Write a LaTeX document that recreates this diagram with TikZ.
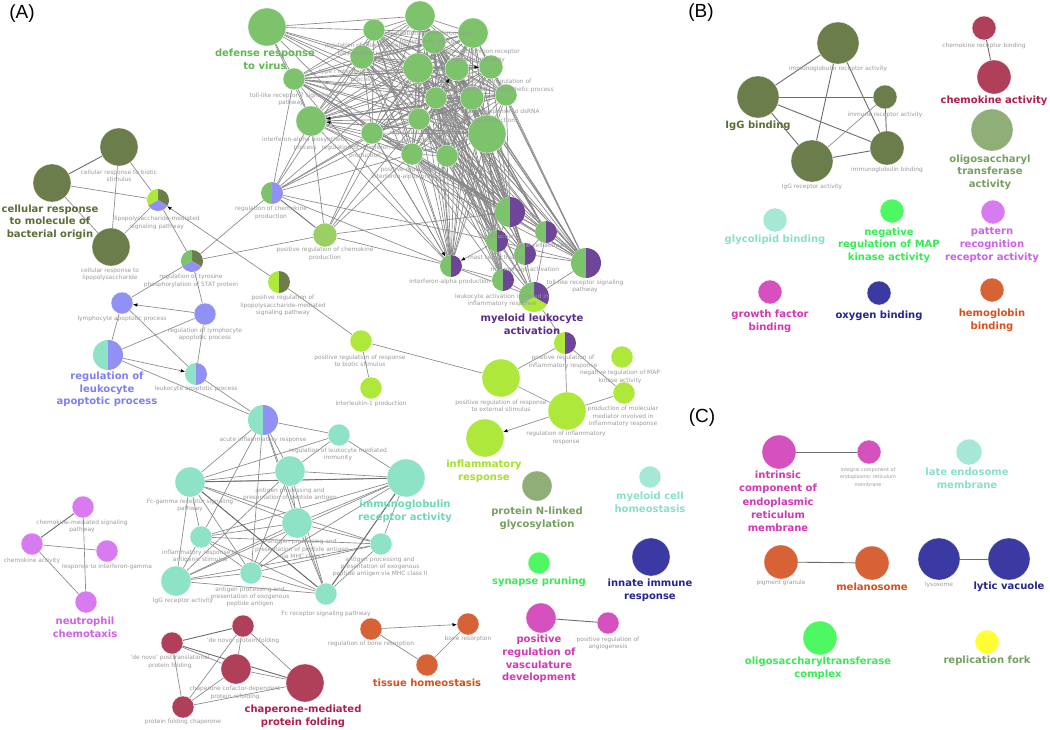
\documentclass[tikz,border=0pt]{standalone}
\usepackage{fontspec}
\setmainfont{DejaVu Sans}
\newfontfamily\panelfont{Liberation Sans}
\usetikzlibrary{arrows.meta}
\pgfdeclarelayer{bgl}
\pgfdeclarelayer{edg}
\pgfsetlayers{bgl,edg,main}
\definecolor{cG}{HTML}{7CC36C}\definecolor{tG}{HTML}{5DB94E}
\definecolor{cO}{HTML}{6B7D4A}\definecolor{tO}{HTML}{5B6E35}
\definecolor{cL}{HTML}{ADE83A}\definecolor{tL}{HTML}{A4E02C}
\definecolor{cV}{HTML}{9191F5}\definecolor{tV}{HTML}{7F7FF2}
\definecolor{cT}{HTML}{8EE3C7}\definecolor{tT}{HTML}{6DDAB6}
\definecolor{cP}{HTML}{6E4598}\definecolor{tP}{HTML}{5A2D8C}
\definecolor{cPi}{HTML}{D87AF0}\definecolor{tPi}{HTML}{D05FE9}
\definecolor{cC}{HTML}{B0405A}\definecolor{tC}{HTML}{B01E4A}
\definecolor{cOr}{HTML}{D66236}\definecolor{tOr}{HTML}{D6511C}
\definecolor{cM}{HTML}{D552BE}\definecolor{tM}{HTML}{D238B6}
\definecolor{cBG}{HTML}{4DF862}\definecolor{tBG}{HTML}{33EE52}
\definecolor{cDB}{HTML}{3A3AA2}\definecolor{tDB}{HTML}{25258F}
\definecolor{cGG}{HTML}{8FAE78}\definecolor{tGG}{HTML}{779F60}
\definecolor{cLT}{HTML}{A6E8D6}\definecolor{tLT}{HTML}{89E0CA}
\definecolor{cLG}{HTML}{9BCF66}
\definecolor{cY}{HTML}{FFFF33}
\definecolor{labgray}{HTML}{9B9B9B}
\definecolor{edgegray}{HTML}{888888}
\tikzset{
  nc/.style={circle,inner sep=0pt,outer sep=0pt,draw=white,line width=0.3pt},
  gl/.style={text=labgray,font=\fontsize{5.9}{7.3}\selectfont,align=center,inner sep=0pt},
  gls/.style={text=labgray,font=\fontsize{4.9}{7.6}\selectfont,align=center,inner sep=0pt},
  bl/.style={font=\bfseries\fontsize{10}{12.6}\selectfont,align=center,inner sep=0pt},
  ge/.style={draw=edgegray,line width=0.65pt},
  gd/.style={draw=gray!85!black,line width=0.9pt},
  ar/.style={ge,-{Latex[length=4.5pt,width=3.5pt,black]}},
  pl/.style={font=\panelfont\fontsize{19}{19}\selectfont,inner sep=0pt}
}
\newcommand\cn[5]{\node[nc,fill=#5,minimum size={2*#4pt}] (#1) at (#2,#3) {};}
\newcommand\hn[6]{\node[nc,minimum size={2*#4pt}] (#1) at (#2,#3) {};
  \fill[#5] (#1.center) -- ++(90:#4pt) arc[start angle=90,end angle=270,radius=#4pt] -- cycle;
  \fill[#6] (#1.center) -- ++(90:#4pt) arc[start angle=90,end angle=-90,radius=#4pt] -- cycle;}
\newcommand\tn[7]{\node[nc,minimum size={2*#4pt}] (#1) at (#2,#3) {};
  \fill[#6] (#1.center) -- ++(90:#4pt) arc[start angle=90,end angle=-30,radius=#4pt] -- cycle;
  \fill[#7] (#1.center) -- ++(-30:#4pt) arc[start angle=-30,end angle=-150,radius=#4pt] -- cycle;
  \fill[#5] (#1.center) -- ++(-150:#4pt) arc[start angle=-150,end angle=-270,radius=#4pt] -- cycle;}
\newcommand\lb[4]{\node[gl] (#1) at (#2,#3) {#4};}
\newcommand\bb[5]{\node[bl,text=#4] (#1) at (#2,#3) {#5};}
\begin{document}
\begin{tikzpicture}[x=1pt,y=-1pt]
\useasboundingbox (0,0) rectangle (1050,729);
\begin{pgfonlayer}{bgl}
\fill[white] (0,0) rectangle (1050,729);
\end{pgfonlayer}
% ---------- green cluster
\cn{g1}{267}{27}{19}{cG}
\cn{g2}{374}{30}{11}{cG}
\cn{g3}{420}{16}{15}{cG}
\cn{g4}{473}{33}{15}{cG}
\cn{g5}{434}{42}{12}{cG}
\cn{g6}{362}{57}{12}{cG}
\cn{g7}{418}{68}{15}{cG}
\cn{g8}{457}{69}{12}{cG}
\cn{g9}{491}{67}{12}{cG}
\cn{g10}{294}{79}{11}{cG}
\cn{g11}{506}{95}{11}{cG}
\cn{g12}{436}{98}{11}{cG}
\cn{g13}{472}{98}{12}{cG}
\cn{g14}{311}{121}{15}{cG}
\cn{g15}{419}{119}{11}{cG}
\cn{g16}{487}{134}{19}{cG}
\cn{g17}{372}{133}{11}{cG}
\cn{g18}{412}{154}{11}{cG}
\cn{g19}{447}{156}{11}{cG}
% split nodes
\hn{p1}{510}{212}{15}{cG}{cP}
\hn{p2}{546}{232}{11}{cG}{cP}
\hn{p3}{497}{241}{11}{cG}{cP}
\hn{p4}{525}{254}{11}{cG}{cP}
\hn{p5}{586}{263}{15}{cG}{cP}
\hn{p6}{451}{266}{11}{cG}{cP}
\hn{p7}{503}{280}{11}{cG}{cP}
\tn{mla}{534}{297}{15}{cG}{cP}{cL}
\hn{pri}{565}{343}{11}{cL}{cP}
\hn{rcp}{272}{193}{11}{cG}{cV}
\cn{prcp}{325}{235}{12}{cLG}
\hn{lps3}{279}{282}{11}{cL}{cO}
% olive
\cn{o1}{119}{147}{19}{cO}
\cn{o2}{52}{183}{19}{cO}
\cn{o3}{111}{247}{19}{cO}
\tn{lps}{158}{200}{11}{cL}{cO}{cV}
\tn{tyr}{192}{261}{11}{cG}{cO}{cV}
% lavender
\cn{lym}{122}{303}{11}{cV}
\cn{rla}{205}{314}{11}{cV}
\hn{rlap}{108}{355}{15}{cT}{cV}
\hn{lap}{196}{374}{11}{cT}{cV}
\hn{acute}{263}{420}{15}{cT}{cV}
% turquoise
\cn{rlmi}{339}{435}{11}{cT}
\cn{app}{290}{471}{15}{cT}
\cn{ig}{406}{478}{19}{cT}
\cn{fcg}{190}{482}{15}{cT}
\cn{mhc1}{297}{523}{15}{cT}
\cn{infl}{201}{537}{11}{cT}
\cn{mhc2}{381}{544}{11}{cT}
\cn{iggr}{176}{581}{15}{cT}
\cn{exo}{251}{573}{11}{cT}
\cn{fcr}{326}{594}{11}{cT}
% lime
\cn{prrbs}{361}{341}{11}{cL}
\cn{il1}{371}{388}{11}{cL}
\cn{prres}{501}{378}{19}{cL}
\cn{ri}{567}{411}{19}{cL}
\cn{ir}{485}{438}{19}{cL}
\cn{mapk}{622}{357}{11}{cL}
\cn{pmm}{624}{393}{11}{cL}
% singles
\cn{nlg}{537}{486}{15}{cGG}
\cn{mch}{650}{477}{11}{cLT}
\cn{sp}{539}{563}{11}{cBG}
\cn{iir}{651}{557}{19}{cDB}
\cn{prvd}{541}{618}{15}{cM}
\cn{prang}{608}{623}{11}{cM}
% violet
\cn{cms}{83}{507}{11}{cPi}
\cn{ca}{32}{544}{11}{cPi}
\cn{rig}{107}{551}{11}{cPi}
\cn{ntc}{86}{602}{11}{cPi}
% crimson
\cn{dnpf}{243}{626}{11}{cC}
\cn{dnpt}{172}{643}{11}{cC}
\cn{ccd}{236}{669}{15}{cC}
\cn{cmpf}{305}{683}{19}{cC}
\cn{pfc}{183}{707}{11}{cC}
% orange
\cn{rbr}{371}{629}{11}{cOr}
\cn{br}{468}{624}{11}{cOr}
\cn{th}{427}{665}{11}{cOr}
% ---------- panel B
\cn{bira}{838}{43}{21}{cO}
\cn{bigg}{758}{97}{21}{cO}
\cn{bimr}{885}{97}{12}{cO}
\cn{bib}{887}{148}{17}{cO}
\cn{bigr}{812}{161}{21}{cO}
\cn{bcrb}{984}{28}{12}{cC}
\cn{bca}{994}{77}{17}{cC}
\cn{bot}{992}{130}{21}{cGG}
\cn{bgb}{775}{220}{12}{cLT}
\cn{bmap}{892}{211}{12}{cBG}
\cn{bprr}{993}{212}{12}{cPi}
\cn{bgf}{770}{292}{12}{cM}
\cn{box}{879}{293}{12}{cDB}
\cn{bhb}{992}{290}{12}{cOr}
% ---------- panel C
\cn{cice}{779}{452}{17}{cM}
\cn{cicm}{869}{452}{12}{cM}
\cn{cle}{969}{452}{13}{cLT}
\cn{cpg}{781}{562}{17}{cOr}
\cn{cmel}{872}{563}{17}{cOr}
\cn{clys}{939}{559}{21}{cDB}
\cn{clv}{1009}{559}{21}{cDB}
\cn{cot}{820}{638}{17}{cBG}
\cn{crf}{987}{642}{12}{cY}
% ================= edges
\begin{pgfonlayer}{edg}
\foreach \i in {2,...,19}{\foreach \j in {2,...,19}{\ifnum\i<\j\relax\draw[ge] (g\i) -- (g\j);\fi}}
\foreach \b in {2,3,6,7,10,12,14,15,16,17} \draw[ge] (g1) -- (g\b);
\foreach \i in {2,...,19}{\foreach \b in {p1,p5,p6} \draw[ge] (g\i) -- (\b);}
\foreach \i in {3,5,7,8,12,13,15,16,18,19}{\foreach \b in {p2,p3,p4,p7} \draw[ge] (g\i) -- (\b);}
\foreach \i in {7,12,15,16,18,19} \draw[ge] (g\i) -- (mla);
\foreach \b in {g10,g14,g17,g6,g7,g15,g18,g12,p6,p3} \draw[ge] (rcp) -- (\b);
\foreach \b in {g14,g17,g18,g15,g7,p6,p1} \draw[ge] (prcp) -- (\b);
\draw[gd] (rcp) -- (prcp);
\foreach \a/\b in {p1/p2,p1/p3,p1/p4,p2/p4,p2/p5,p3/p4,p4/p7,p7/mla,p4/mla,p2/mla,p5/mla,p5/p4,p6/p7,p6/mla,p3/p7,p5/p3}
  \draw[ge] (\a) -- (\b);
\draw[ar] (p3) -- (p6);
\draw[ar] (g17) -- (p6);
\draw[ar] (g16) -- (g14);
\draw[ar] (g13) -- (g14);
\draw[ar] (g15) -- (g8);
\draw[ar] (g7) -- (g9);
% olive
\draw[gd] (o1) -- (o2);
\foreach \a/\b in {o1/o3,o2/o3,o2/lps,o1/lps,o3/lps,lps/tyr,tyr/lym,tyr/rla,tyr/rcp,tyr/prcp,lps3/prrbs}
  \draw[ge] (\a) -- (\b);
\draw[ar] (lps3) -- (lps);
% lavender
\draw[ar] (rla) -- (lym);
\draw[ar] (rlap) -- (lap);
\foreach \a/\b in {lym/rlap,rlap/rla,lym/lap,rla/lap,lap/acute,rlap/acute}
  \draw[ge] (\a) -- (\b);
% turquoise
\foreach \b in {rlmi,app,fcg,mhc1,fcr,exo,infl} \draw[ge] (acute) -- (\b);
\foreach \a/\b in {rlmi/app,rlmi/fcg,rlmi/ig,app/ig,app/fcg,app/mhc1,app/exo,app/fcr,app/iggr,
  ig/fcg,ig/mhc1,ig/mhc2,ig/fcr,ig/exo,ig/iggr,ig/infl,fcg/mhc1,fcg/infl,fcg/iggr,fcg/exo,fcg/fcr,fcg/mhc2,
  mhc1/infl,mhc1/mhc2,mhc1/iggr,mhc1/exo,mhc1/fcr,infl/mhc2,infl/iggr,infl/exo,infl/fcr,mhc2/exo,mhc2/fcr,
  iggr/exo,iggr/fcr,exo/fcr,iggr/mhc2}
  \draw[ge] (\a) -- (\b);
\draw[gd] (fcg) -- (ig);
\draw[gd] (fcg) -- (fcr);
\draw[gd] (ig) -- (fcr);
% lime
\foreach \a/\b in {prrbs/il1,prrbs/prres,prres/pri,prres/ri,pri/ri,pri/pmm,ri/pmm,mla/pri}
  \draw[ge] (\a) -- (\b);
\draw[ar] (ri) -- (ir);
% violet
\foreach \a/\b in {cms/ntc,ca/rig,ca/ntc} \draw[ge] (\a) -- (\b);
\draw[gd] (cms) -- (ca);
% crimson
\foreach \a/\b in {dnpf/ccd,dnpf/cmpf,dnpt/ccd,dnpt/pfc,ccd/pfc,pfc/cmpf,pfc/dnpf,ccd/cmpf}
  \draw[ge] (\a) -- (\b);
\draw[gd] (dnpf) -- (dnpt);
\draw[gd] (dnpt) -- (cmpf);
% orange
\draw[ar] (rbr) -- (br);
\draw[ge] (rbr) -- (th);
\draw[ge] (th) -- (br);
\draw[gd] (prvd) -- (prang);
% panel B
\foreach \a/\b in {bigg/bira,bigg/bimr,bigg/bigr,bigg/bib,bira/bigr,bira/bib,bimr/bib,bigr/bib,bcrb/bca}
  \draw[gd] (\a) -- (\b);
\draw[ge] (bimr) -- (bigr);
% panel C
\draw[gd] (cice) -- (cicm);
\draw[gd] (cpg) -- (cmel);
\draw[gd] (clys) -- (clv);
\end{pgfonlayer}
% ================= gray labels
\lb{tg2}{368}{50}{regulation of interferon-alpha\\biosynthetic process}
\lb{tg3}{430}{38}{regulation of interferon-beta\\biosynthetic process}
\lb{tg4}{478}{56}{pattern recognition receptor\\signaling pathway}
\lb{tg9}{500}{86}{positive regulation of\\interferon-beta biosynthetic process}
\lb{tg6}{362}{76}{type I interferon biosynthetic\\process}
\lb{tg10}{291}{99.5}{toll-like receptor 7 signaling\\pathway}
\lb{tg14}{305}{144}{interferon-alpha biosynthetic\\process}
\lb{tg17}{365}{152}{regulation of interferon-alpha\\production}
\lb{tg11}{500}{112}{cellular response to dsRNA}
\lb{tg13}{476}{121}{interferon-beta production}
\lb{tg15}{425}{137}{regulation of interferon-\\beta production}
\lb{tg18}{412}{173.5}{positive regulation of\\interferon-alpha production}
\lb{tp1}{500}{237}{production}
\lb{tp2}{546}{246}{glial cell activation}
\lb{tp3}{497}{257}{mast cell activation}
\lb{tp4}{525}{270}{macrophage activation}
\lb{tp6}{450}{282}{interferon-alpha production}
\lb{tp5}{585}{286.5}{toll-like receptor signaling\\pathway}
\lb{tmla}{502}{300.5}{leukocyte activation involved in\\inflammatory response}
\lb{to1}{119}{175.5}{cellular response to biotic\\stimulus}
\lb{tlps}{157}{223}{lipopolysaccharide-mediated\\signaling pathway}
\lb{to3}{110}{274.5}{cellular response to\\lipopolysaccharide}
\lb{trcp}{271}{213}{regulation of chemokine\\production}
\lb{tprcp}{325}{254}{positive regulation of chemokine\\production}
\lb{ttyr}{191}{281}{regulation of tyrosine\\phosphorylation of STAT protein}
\lb{tlps3}{283}{305.5}{positive regulation of\\lipopolysaccharide-mediated\\signaling pathway}
\lb{tlym}{122}{319}{lymphocyte apoptotic process}
\lb{trla}{205}{334.5}{regulation of lymphocyte\\apoptotic process}
\lb{tlap}{196}{389}{leukocyte apoptotic process}
\lb{tacute}{263}{440}{acute inflammatory response}
\lb{trlmi}{338}{454.5}{regulation of leukocyte mediated\\immunity}
\lb{tapp}{290}{494.5}{antigen processing and\\presentation of peptide antigen}
\lb{tfcg}{190}{505.5}{Fc-gamma receptor signaling\\pathway}
\lb{tmhc1}{302}{549}{antigen processing and\\presentation of peptide antigen\\via MHC class I}
\lb{tinfl}{200}{556.5}{inflammatory response to\\antigenic stimulus}
\lb{tmhc2}{380}{567}{antigen processing and\\presentation of exogenous\\peptide antigen via MHC class II}
\lb{tiggr}{183}{601}{IgG receptor activity}
\lb{texo}{250}{597}{antigen processing and\\presentation of exogenous\\peptide antigen}
\lb{tfcr}{326}{614}{Fc receptor signaling pathway}
\lb{tprrbs}{360}{361}{positive regulation of response\\to biotic stimulus}
\lb{til1}{371}{404}{interleukin-1 production}
\lb{tprres}{501}{405.5}{positive regulation of response\\to external stimulus}
\lb{tri}{566}{438}{regulation of inflammatory\\response}
\lb{tpri}{563}{362}{positive regulation of\\inflammatory response}
\lb{tmapk}{620}{377}{negative regulation of MAP\\kinase activity}
\lb{tpmm}{623}{416.5}{production of molecular\\mediator involved in\\inflammatory response}
\lb{tcms}{82}{526.5}{chemokine-mediated signaling\\pathway}
\lb{tca}{32}{561}{chemokine activity}
\lb{trig}{107}{567}{response to interferon-gamma}
\lb{tdnpf}{243}{641}{'de novo' protein folding}
\lb{tdnpt}{170}{662}{'de novo' posttranslational\\protein folding}
\lb{tccd}{235}{693}{chaperone cofactor-dependent\\protein refolding}
\lb{tpfc}{183}{722}{protein folding chaperone}
\lb{trbr}{371}{644}{regulation of bone resorption}
\lb{tbr}{468}{639}{bone resorption}
\lb{tprang}{608}{643.5}{positive regulation of\\angiogenesis}
\lb{tbira}{838}{69}{immunoglobulin receptor activity}
\lb{tbimr}{885}{115}{immune receptor activity}
\lb{tbib}{887}{170}{immunoglobulin binding}
\lb{tbigr}{812}{187}{IgG receptor activity}
\lb{tbcrb}{984}{46}{chemokine receptor binding}
\node[gls] (tcicm) at (868,477) {integral component of\\endoplasmic reticulum\\membrane};
\lb{tcpg}{781}{583}{pigment granule}
\lb{tclys}{939}{585}{lysosome}
% ================= bold labels
\bb{bg1}{265}{59.5}{tG}{defense response\\to virus}
\bb{bo}{50}{222}{tO}{cellular response\\to molecule of\\bacterial origin}
\bb{bv}{107}{389.5}{tV}{regulation of\\leukocyte\\apoptotic process}
\bb{bp}{532}{324.5}{tP}{myeloid leukocyte\\activation}
\bb{bli}{484}{471}{tL}{inflammatory\\response}
\bb{bt}{405}{511}{tT}{immunoglobulin\\receptor activity}
\bb{bgg}{537}{518.5}{tGG}{protein N-linked\\glycosylation}
\bb{blt}{650}{502}{tLT}{myeloid cell\\homeostasis}
\bb{bpi}{85}{627.5}{tPi}{neutrophil\\chemotaxis}
\bb{bsp}{539}{582}{tBG}{synapse pruning}
\bb{biir}{650}{590}{tDB}{innate immune\\response}
\bb{bm}{539}{659}{tM}{positive\\regulation of\\vasculature\\development}
\bb{bth}{427}{683}{tOr}{tissue homeostasis}
\bb{bc}{303}{716}{tC}{chaperone-mediated\\protein folding}
\bb{bbigg}{758}{126}{tO}{IgG binding}
\bb{bbca}{994}{101}{tC}{chemokine activity}
\bb{bbot}{990}{172}{tGG}{oligosaccharyl\\transferase\\activity}
\bb{bbgb}{775}{240}{tLT}{glycolipid binding}
\bb{bbmap}{889}{245}{tBG}{negative\\regulation of MAP\\kinase activity}
\bb{bbprr}{992}{245}{tPi}{pattern\\recognition\\receptor activity}
\bb{bbgf}{770}{321.5}{tM}{growth factor\\binding}
\bb{bbox}{879}{316}{tDB}{oxygen binding}
\bb{bbhb}{992}{320.5}{tOr}{hemoglobin\\binding}
\node[bl,text=tM,font=\bfseries\fontsize{10}{13.3}\selectfont] (bcice) at (778,501.5) {intrinsic\\component of\\endoplasmic\\reticulum\\membrane};
\bb{bcle}{967}{478}{tLT}{late endosome\\membrane}
\bb{bcmel}{872}{587}{tOr}{melanosome}
\bb{bclv}{1009}{587}{tDB}{lytic vacuole}
\bb{bcot}{818}{668.5}{tBG}{oligosaccharyltransferase\\complex}
\bb{bcrf}{987}{661}{tGG}{replication fork}
% panel letters
\node[pl] (pa) at (22,14) {(A)};
\node[pl] (pb) at (701,13) {(B)};
\node[pl] (pc) at (702,418) {(C)};
\end{tikzpicture}
\end{document}
